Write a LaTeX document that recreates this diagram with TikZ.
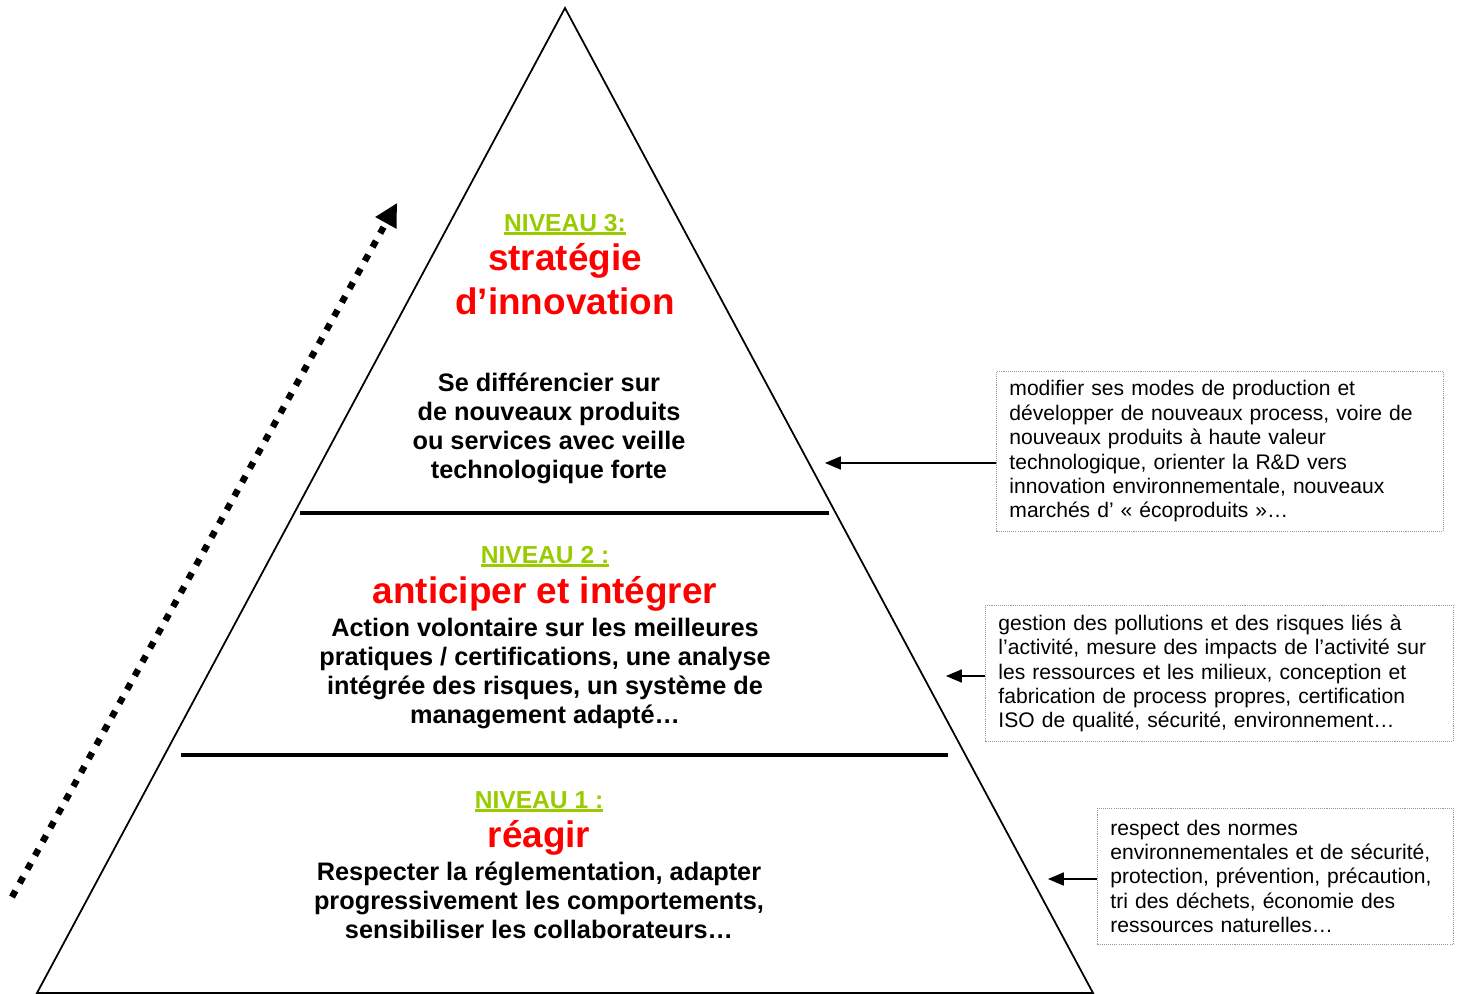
\documentclass[tikz,border=0pt]{standalone}
\usepackage{fontspec}
\setmainfont{Liberation Sans}
\usetikzlibrary{arrows.meta,positioning}
\definecolor{niveau}{RGB}{153,204,0}
\definecolor{rouge}{RGB}{255,0,0}
\newcommand\souligne[1]{\setbox0\hbox{#1}\rlap{\smash{\rule[-2.4pt]{\wd0}{1.6pt}}}\box0}
\tikzset{
  titre/.style={text=niveau, font=\fontsize{14}{16}\selectfont\bfseries,
    inner sep=0pt, anchor=base},
  enjeu/.style={text=rouge, font=\fontsize{21}{24.5}\selectfont\bfseries,
    align=center, inner sep=0pt, anchor=base},
  detail/.style={font=\fontsize{14.4}{16.5}\selectfont\bfseries,
    align=center, inner sep=0pt, anchor=base},
  note/.style={draw=gray!80, dash pattern=on 0.6pt off 0.6pt, line width=0.5pt,
    align=left, font=\fontsize{12}{13.9}\selectfont,
    inner xsep=0.26cm, anchor=north west},
  palier/.style={line width=2.3pt},
  renvoi/.style={line width=0.6pt, -{Triangle[length=9pt,width=7.5pt]}},
}

\begin{document}
\begin{tikzpicture}[x=0.02cm,y=-0.02cm]
  \useasboundingbox (0,0) rectangle (1458,994);

  % pyramide
  \coordinate (sommet) at (565,8);
  \coordinate (bas-g) at (37,993);
  \coordinate (bas-d) at (1093,993);
  \draw[line width=1pt] (sommet) -- (bas-g) -- (bas-d) -- cycle;
  \draw[palier] (300,513) -- (829,513);
  \draw[palier] (181,755) -- (948,755);

  % progression
  \coordinate (depart) at (12,897);
  \coordinate (arrivee) at (397,203);
  \draw[line width=3.7pt, dash pattern=on 4pt off 5pt,
    -{Triangle[length=13pt,width=13pt]}] (depart) -- (arrivee);

  % niveau 3 (base = derniere ligne)
  \node[titre] (lvl3) at (565,231) {\souligne{NIVEAU 3:}};
  \node[enjeu] (goal3) at (565,314) {stratégie\\d’innovation};
  \node[detail] (txt3) at (549,478) {Se différencier sur\\de nouveaux produits\\ou services avec veille\\technologique forte};

  % niveau 2
  \node[titre] (lvl2) at (545,563) {\souligne{NIVEAU 2 :}};
  \node[enjeu] (goal2) at (545,603) {anticiper et intégrer};
  \node[detail] (txt2) at (545,723) {Action volontaire sur les meilleures\\pratiques / certifications, une analyse\\intégrée des risques, un système de\\management adapté…};

  % niveau 1
  \node[titre] (lvl1) at (539,808) {\souligne{NIVEAU 1 :}};
  \node[enjeu] (goal1) at (539,847) {réagir};
  \node[detail] (txt1) at (539,938) {Respecter la réglementation, adapter\\progressivement les comportements,\\sensibiliser les collaborateurs…};

  % encadres
  \node[note, text width=8.42cm, minimum height=3.2cm] (box3) at (996,371)
    {modifier ses modes de production et\\développer de nouveaux process, voire de\\nouveaux produits à haute valeur\\technologique, orienter la R\&D vers\\innovation environnementale, nouveaux\\marchés d’ « écoproduits »…};
  \node[note, text width=8.84cm, minimum height=2.72cm] (box2) at (985,605)
    {gestion des pollutions et des risques liés à\\l’activité, mesure des impacts de l’activité sur\\les ressources et les milieux, conception et\\fabrication de process propres, certification\\ISO de qualité, sécurité, environnement…};
  \node[note, text width=6.6cm, minimum height=2.72cm] (box1) at (1097,808)
    {respect des normes\\environnementales et de sécurité,\\protection, prévention, précaution,\\tri des déchets, économie des\\ressources naturelles…};

  \coordinate (cible3) at (825,463);
  \coordinate (cible2) at (946,676);
  \coordinate (cible1) at (1048,879);
  \draw[renvoi] (cible3 -| box3.west) -- (cible3);
  \draw[renvoi] (cible2 -| box2.west) -- (cible2);
  \draw[renvoi] (cible1 -| box1.west) -- (cible1);
\end{tikzpicture}
\end{document}
